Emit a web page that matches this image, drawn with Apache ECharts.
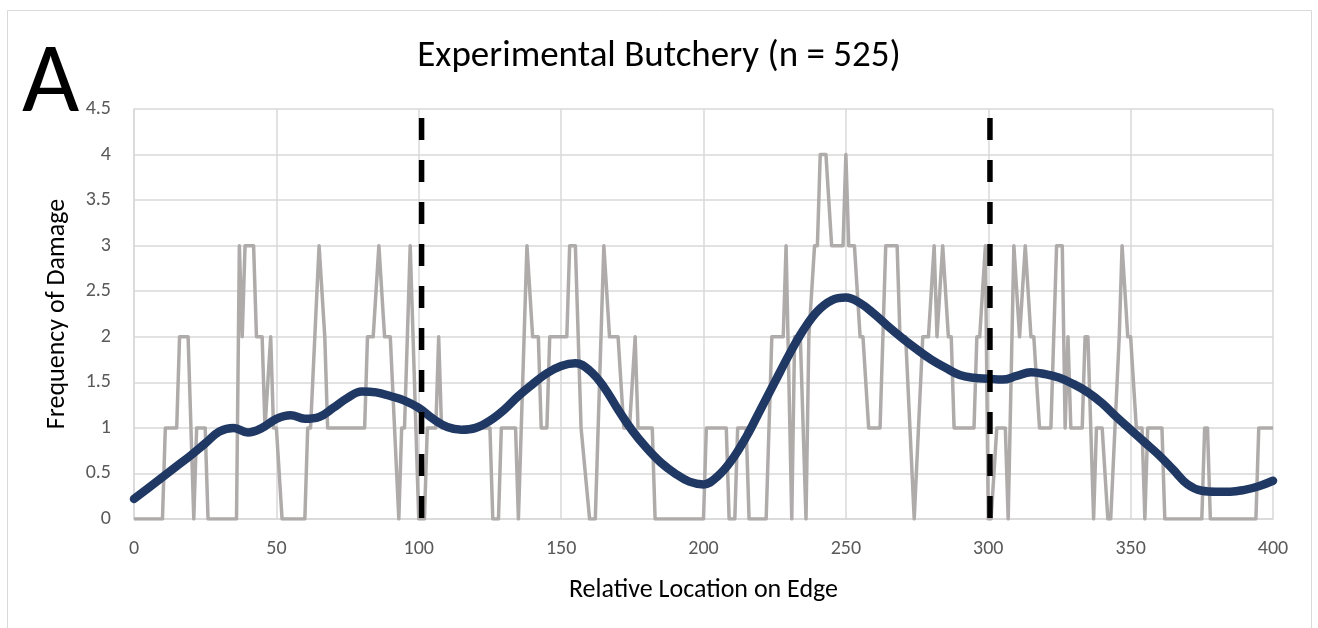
<!DOCTYPE html>
<html>
<head>
<meta charset="utf-8">
<title>Experimental Butchery</title>
<script src="https://cdn.jsdelivr.net/npm/echarts@6/dist/echarts.min.js"></script>
<style>
  html, body { margin: 0; padding: 0; background: #ffffff; }
  #chart { width: 1318px; height: 628px; }
</style>
</head>
<body>
<div id="chart"></div>
<script>
// Raw damage counts along the edge: [location, frequency] at each change of value
const rawCounts = [
  [0,0],[10,0],[11,1],[15,1],[16,2],[19,2],[21,0],[22,1],[25,1],[26,0],
  [36,0],[37,3],[38,2],[39,3],[42,3],[43,2],[45,2],[46,1],[48,2],[49,1],
  [50,1],[52,0],[60,0],[61,1],[62,1],[65,3],[67,2],[68,1],[81,1],[82,2],
  [84,2],[86,3],[88,2],[90,2],[93,0],[94,1],[95,1],[97,3],[100,0],[102,0],
  [103,1],[106,1],[107,2],[108,1],[125,1],[126,0],[128,0],[129,1],[134,1],[135,0],
  [138,3],[140,2],[142,2],[143,1],[145,1],[146,2],[152,2],[153,3],[155,3],[157,1],
  [160,0],[162,0],[165,3],[167,2],[170,2],[172,1],[174,1],[176,2],[177,1],[182,1],
  [183,0],[200,0],[201,1],[208,1],[209,0],[211,0],[212,1],[215,1],[216,0],[222,0],
  [224,2],[228,2],[229,3],[231,0],[232,2],[234,2],[236,0],[237,2],[239,3],[240,3],
  [241,4],[243,4],[245,3],[249,3],[250,4],[251,3],[253,3],[255,2],[256,2],[258,1],
  [262,1],[264,3],[268,3],[269,2],[271,2],[274,0],[277,2],[279,2],[281,3],[282,2],
  [284,3],[286,2],[287,2],[288,1],[295,1],[296,2],[297,2],[299,3],[300,0],[301,0],
  [303,1],[306,1],[307,0],[309,3],[311,2],[313,3],[315,2],[316,2],[318,1],[322,1],
  [324,3],[326,3],[327,1],[328,2],[329,1],[333,1],[334,2],[335,2],[337,0],[338,1],
  [340,1],[342,0],[343,0],[346,2],[347,3],[349,2],[350,2],[352,1],[354,1],[355,0],
  [356,1],[361,1],[362,0],[375,0],[376,1],[377,1],[378,0],[394,0],[395,1],[400,1]
];

// Smoothed trend of damage frequency, sampled every 5 units
const trendX = [0,5,10,15,20,25,30,35,40,45,50,55,60,65,70,75,80,85,90,95,
  100,105,110,115,120,125,130,135,140,145,150,155,160,165,170,175,180,185,190,195,
  200,205,210,215,220,225,230,235,240,245,250,255,260,265,270,275,280,285,290,295,
  300,305,310,315,320,325,330,335,340,345,350,355,360,365,370,375,380,385,390,395,400];
const trendY = [0.22,0.34,0.46,0.58,0.7,0.83,0.96,1.0,0.95,1.0,1.1,1.14,1.1,1.12,1.22,1.33,1.4,1.39,1.35,1.3,
  1.22,1.1,1.01,0.98,1.0,1.08,1.2,1.35,1.48,1.6,1.68,1.71,1.63,1.45,1.2,0.97,0.78,0.62,0.5,0.41,
  0.38,0.47,0.65,0.9,1.2,1.5,1.8,2.07,2.28,2.4,2.43,2.37,2.25,2.11,1.98,1.86,1.75,1.66,1.58,1.55,
  1.54,1.53,1.57,1.61,1.59,1.55,1.48,1.39,1.27,1.12,0.98,0.84,0.7,0.54,0.38,0.31,0.3,0.3,0.32,0.36,0.42];

// Section boundaries along the edge, and the height the dashed markers reach
const sectionBreaks = [101, 300.6];
const breakTop = 4.4;

// Axis settings
const xMin = 0, xMax = 400, xStep = 50;
const yMin = 0, yMax = 4.5, yStep = 0.5;

const FONT = 'Carlito, Lato, sans-serif';

const trendData = trendX.map((x, i) => [x, trendY[i]]);

const breakSeries = sectionBreaks.map(x => ({
  type: 'line',
  data: [[x, breakTop], [x, 0]],
  showSymbol: false,
  silent: true,
  z: 5,
  lineStyle: { color: '#000000', width: 5.5, type: [22, 20], cap: 'butt' }
}));

const chart = echarts.init(document.getElementById('chart'), null, { renderer: 'canvas' });

chart.setOption({
  animation: false,
  backgroundColor: '#ffffff',
  title: {
    text: 'Experimental Butchery (n = 525)',
    left: 'center',
    top: 33,
    textStyle: { fontFamily: FONT, fontSize: 37, fontWeight: 'normal', color: '#000000' }
  },
  graphic: [
    {
      type: 'rect',
      shape: { x: 7.5, y: 10.5, width: 1304, height: 640 },
      style: { fill: 'none', stroke: '#d9d9d9', lineWidth: 1 },
      silent: true,
      z: -10
    },
    {
      type: 'text',
      left: 22,
      top: 37,
      style: { text: 'A', fontFamily: FONT, fontSize: 99, fill: '#000000' },
      z: 10
    }
  ],
  grid: { left: 134, right: 45, top: 109, bottom: 109, containLabel: false },
  xAxis: {
    type: 'value',
    min: xMin, max: xMax, interval: xStep,
    name: 'Relative Location on Edge',
    nameLocation: 'middle',
    nameGap: 58,
    nameTextStyle: { fontFamily: FONT, fontSize: 26, color: '#000000' },
    axisLine: { show: true, lineStyle: { color: '#d9d9d9', width: 1.5 } },
    axisTick: { show: false },
    axisLabel: { fontFamily: FONT, fontSize: 20, color: '#595959', margin: 20 },
    splitLine: { show: true, lineStyle: { color: '#d9d9d9', width: 1.5 } }
  },
  yAxis: {
    type: 'value',
    min: yMin, max: yMax, interval: yStep,
    name: 'Frequency of Damage',
    nameLocation: 'middle',
    nameGap: 64,
    nameTextStyle: { fontFamily: FONT, fontSize: 26, color: '#000000' },
    axisLine: { show: true, lineStyle: { color: '#d9d9d9', width: 1.5 } },
    axisTick: { show: false },
    axisLabel: { fontFamily: FONT, fontSize: 20, color: '#595959', margin: 23 },
    splitLine: { show: true, lineStyle: { color: '#d9d9d9', width: 1.5 } }
  },
  series: [
    {
      name: 'Damage count',
      type: 'line',
      data: rawCounts,
      showSymbol: false,
      silent: true,
      z: 2,
      lineStyle: { color: '#AFABAB', width: 3.5, join: 'round' }
    },
    {
      name: 'Trend',
      type: 'line',
      data: trendData,
      smooth: 0.4,
      showSymbol: false,
      silent: true,
      z: 3,
      lineStyle: { color: '#203864', width: 8.5, cap: 'round', join: 'round' }
    },
    ...breakSeries
  ]
});
</script>
</body>
</html>
